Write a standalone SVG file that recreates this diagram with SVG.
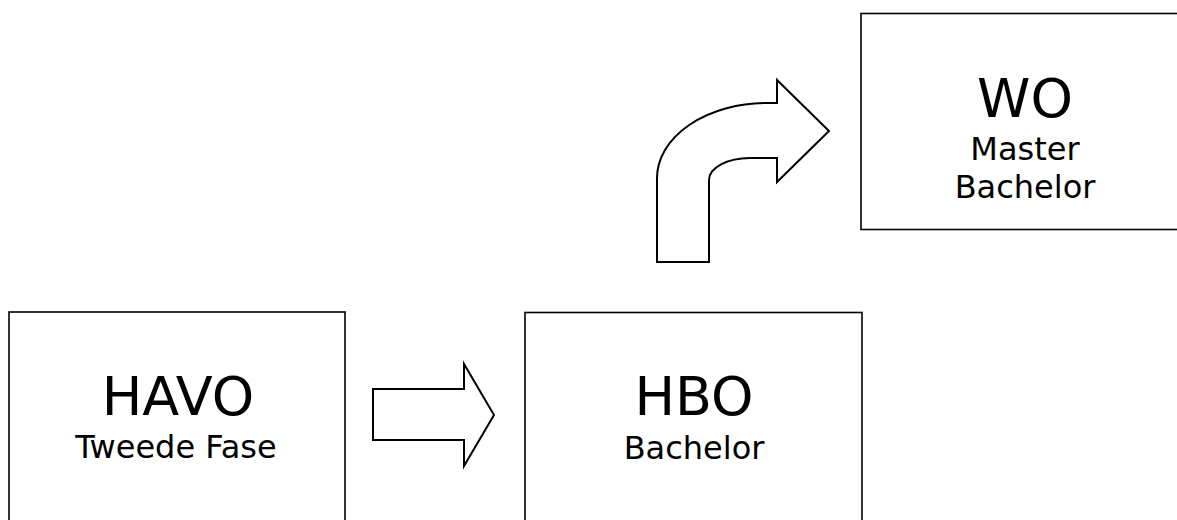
<svg xmlns="http://www.w3.org/2000/svg" width="1177" height="520" viewBox="0 0 1177 520">
<style>
.box{fill:#fff;stroke:#000;stroke-width:1.6}
.arr{fill:#fff;stroke:#000;stroke-width:2;stroke-linejoin:miter}
.big{font-family:"DejaVu Sans","Verdana",sans-serif;font-size:54px;text-anchor:middle;fill:#000}
.small{font-family:"DejaVu Sans","Verdana",sans-serif;font-size:32px;text-anchor:middle;fill:#000}
</style>
<rect width="1177" height="520" fill="#fff"/>
<g id="havo">
<rect class="box" x="9" y="312" width="336" height="230"/>
<text class="big" x="178" y="415">HAVO</text>
<text class="small" x="176" y="458">Tweede Fase</text>
</g>
<g id="hbo">
<rect class="box" x="525" y="312.5" width="337" height="230"/>
<text class="big" x="694" y="415">HBO</text>
<text class="small" x="694" y="459">Bachelor</text>
</g>
<g id="wo">
<rect class="box" x="861" y="13.5" width="330" height="216"/>
<text class="big" x="1025" y="117">WO</text>
<text class="small" x="1025" y="160">Master</text>
<text class="small" x="1025" y="198">Bachelor</text>
</g>
<g id="connectors">
<path class="arr" d="M373,389 L464,389 L464,364 L494,415 L464,466 L464,440 L373,440 Z"/>
<path class="arr" d="M657,262 L657,178 A110,75 0 0 1 767,103 L777,103 L777,80 L829,131 L777,182 L777,158 L750,158 A41,22 0 0 0 709,180 L709,262 Z"/>
</g>
</svg>
